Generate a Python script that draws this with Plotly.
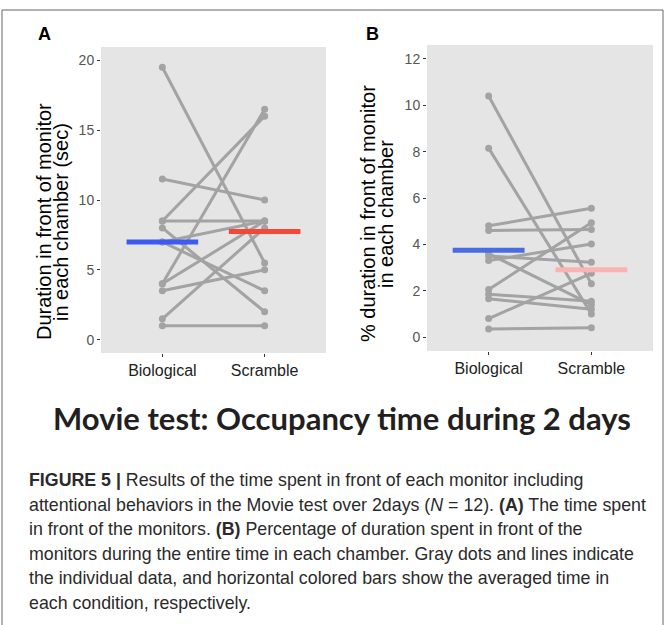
import plotly.graph_objects as go

# ---------------- data ----------------
categories = ["Biological", "Scramble"]

a_bio = [19.5, 11.5, 8.5, 8.5, 8.0, 7.0, 7.0, 4.0, 4.0, 3.5, 1.5, 1.0]
a_scr = [5.5, 10.0, 16.0, 8.5, 2.0, 3.5, 8.5, 16.5, 8.5, 5.0, 8.0, 1.0]
a_means = [7.0, 7.75]
a_ticks = [0, 5, 10, 15, 20]

b_bio = [10.4, 8.15, 4.8, 4.6, 3.6, 3.5, 3.3, 2.05, 1.85, 1.65, 0.8, 0.35]
b_scr = [2.3, 1.0, 5.56, 4.64, 1.4, 3.23, 4.02, 4.93, 1.55, 1.2, 2.75, 0.4]
b_means = [3.75, 2.9]
b_ticks = [0, 2, 4, 6, 8, 10, 12]

title_text = "Movie test: Occupancy time during 2 days"
caption_lines = [
    "<b>FIGURE 5 |</b> Results of the time spent in front of each monitor including",
    "attentional behaviors in the Movie test over 2days (<i>N</i> = 12). <b>(A)</b> The time spent",
    "in front of the monitors. <b>(B)</b> Percentage of duration spent in front of the",
    "monitors during the entire time in each chamber. Gray dots and lines indicate",
    "the individual data, and horizontal colored bars show the averaged time in",
    "each condition, respectively.",
]

# ---------------- figure ----------------
W, H = 670, 625
FONT = "Liberation Sans, Arial, sans-serif"
GRAY = "#A3A3A3"
pos = [1, 2]
half = 0.35


def px(x):
    return x / W


def py(y):
    return 1 - y / H


fig = go.Figure()


def add_panel(bio, scr, means, colors, xa, ya):
    xs, ys = [], []
    for b, s in zip(bio, scr):
        xs += [pos[0], pos[1], None]
        ys += [b, s, None]
    fig.add_trace(go.Scatter(
        x=xs, y=ys, mode="lines+markers", xaxis=xa, yaxis=ya,
        line=dict(color=GRAY, width=3), marker=dict(color=GRAY, size=7),
        showlegend=False, hoverinfo="skip"))
    for p, m, c in zip(pos, means, colors):
        fig.add_trace(go.Scatter(
            x=[p - half, p + half], y=[m, m], mode="lines", xaxis=xa, yaxis=ya,
            line=dict(color=c, width=5), showlegend=False, hoverinfo="skip"))


add_panel(a_bio, a_scr, a_means, ["#3B5BF2", "#F4473A"], "x", "y")
add_panel(b_bio, b_scr, b_means, ["#4A6CE2", "#FDB2B2"], "x2", "y2")

xcommon = dict(
    tickmode="array", tickvals=pos, ticktext=categories, range=[0.4, 2.6],
    showgrid=False, zeroline=False, showline=False,
    ticks="outside", ticklen=3, tickcolor="#333333",
    tickfont=dict(family=FONT, size=16, color="#222222"), fixedrange=True)
ycommon = dict(
    showgrid=False, zeroline=False, showline=False,
    ticks="outside", ticklen=3, tickcolor="#333333",
    tickfont=dict(family=FONT, size=14, color="#555555"), fixedrange=True)

fig.update_layout(
    width=W, height=H,
    margin=dict(l=0, r=0, t=0, b=0),
    paper_bgcolor="white",
    plot_bgcolor="#E5E5E5",
    xaxis=dict(domain=[px(101), px(326)], anchor="y", **xcommon),
    yaxis=dict(domain=[py(353), py(47)], anchor="x", range=[-0.95, 20.95],
               tickvals=a_ticks, **ycommon),
    xaxis2=dict(domain=[px(427), px(653)], anchor="y2", **xcommon),
    yaxis2=dict(domain=[py(351), py(45)], anchor="x2", range=[-0.6, 12.6],
                tickvals=b_ticks, **ycommon),
)

ann = []
# panel letters
ann.append(dict(text="<b>A</b>", x=px(44), y=py(34), xref="paper", yref="paper",
                showarrow=False, xanchor="center", yanchor="middle",
                font=dict(family=FONT, size=18, color="black")))
ann.append(dict(text="<b>B</b>", x=px(372), y=py(34), xref="paper", yref="paper",
                showarrow=False, xanchor="center", yanchor="middle",
                font=dict(family=FONT, size=18, color="black")))
# axis titles (two lines each, tight spacing)
for txt, x, y in [("Duration in front of monitor", 44, 222),
                  ("in each chamber (sec)", 61, 222),
                  ("% duration in front of monitor", 368, 214),
                  ("in each chamber", 386, 214)]:
    ann.append(dict(text=txt, x=px(x), y=py(y), xref="paper", yref="paper",
                    showarrow=False, textangle=-90, xanchor="center", yanchor="middle",
                    font=dict(family=FONT, size=20, color="black")))
# big title
ann.append(dict(text="<b>" + title_text + "</b>", x=px(342), y=py(418),
                xref="paper", yref="paper", showarrow=False,
                xanchor="center", yanchor="middle",
                font=dict(family="Lato, Open Sans, sans-serif", size=31, color="#231F20")))
# caption
for i, line in enumerate(caption_lines):
    ann.append(dict(text=line, x=px(27), y=py(480 + i * 24.5), xref="paper", yref="paper",
                    showarrow=False, xanchor="left", yanchor="middle",
                    font=dict(family=FONT, size=17.8, color="#2A2A2A")))
fig.update_layout(annotations=ann)

# outer frame
fig.add_shape(type="rect", xref="paper", yref="paper",
              x0=px(2), x1=px(663), y0=py(640), y1=py(10),
              line=dict(color="#666666", width=1), fillcolor="rgba(0,0,0,0)", layer="below")

fig.write_html("out.html", config={"displayModeBar": False},
               post_script="document.body.style.margin='0';document.body.style.overflow='hidden';")
